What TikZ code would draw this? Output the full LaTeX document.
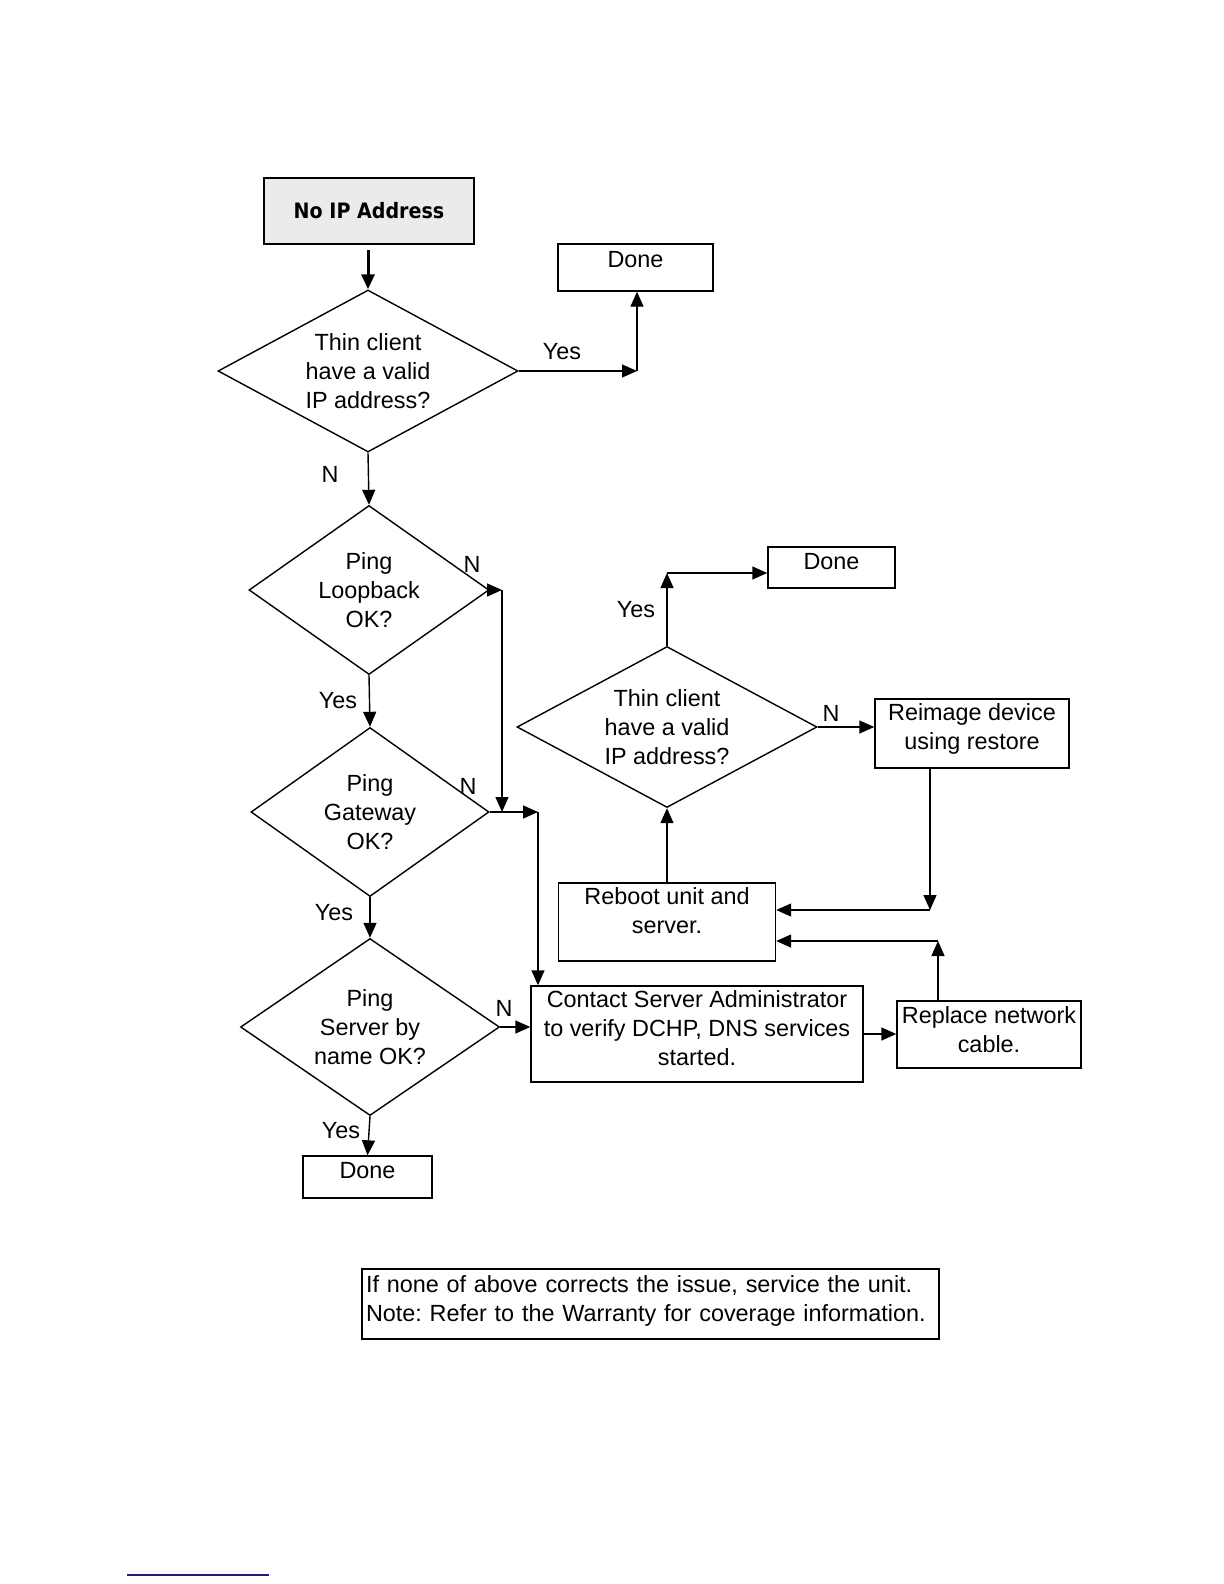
\documentclass[tikz,border=0pt]{standalone}
\usepackage{fontspec}
\setmainfont{Liberation Sans}
\newfontfamily\titlefont[FakeStretch=0.9]{DejaVu Sans}
\usetikzlibrary{shapes.geometric,arrows.meta,positioning}
\definecolor{footblue}{RGB}{30,30,120}
\frenchspacing

\begin{document}
\begin{tikzpicture}[x=0.5pt, y=-0.5pt,
    font=\fontsize{11.7}{14.5}\selectfont,
    every node/.style={inner sep=0pt},
    box/.style={draw, line width=0.7pt, align=center},
    decision/.style={draw, diamond, line width=0.7pt, align=center},
    flow/.style={line width=0.7pt, -{Triangle[length=7.5pt,width=6.5pt]}}]
        \useasboundingbox (0,0) rectangle (1224,1584);
        \node[box, fill=black!8, minimum width=105pt, text height=20.35pt, text depth=12.65pt,
          font=\titlefont\bfseries\fontsize{10.6}{12}\selectfont] (noip) at (369,211) {No IP Address};
        \node[decision, minimum width=150pt, minimum height=81pt, aspect=1.85] (valid) at (368,371)
          {Thin client\\have a valid\\IP address?};
        \node[box, minimum width=77.5pt, text height=11.5pt, text depth=12pt] (doneA) at (635.5,267.5) {Done};
        \node[decision, minimum width=120pt, minimum height=84.5pt, aspect=1.42] (loop) at (369,590)
          {Ping\\Loopback\\OK?};
        \node[decision, minimum width=119pt, minimum height=84.5pt, aspect=1.42] (gate) at (370,812)
          {Ping\\Gateway\\OK?};
        \node[decision, minimum width=129.5pt, minimum height=88.5pt, aspect=1.46] (byname) at (370,1027)
          {Ping\\Server by\\name OK?};
        \node[box, minimum width=64.5pt, text height=11.25pt, text depth=9.75pt] (doneC) at (367.5,1177) {Done};
        \node[box, minimum width=166pt, text height=39.5pt, text depth=8.5pt] (admin) at (697,1034)
          {Contact Server Administrator\\to verify DCHP, DNS services\\started.};
        \node[box, minimum width=92pt, text height=25.5pt, text depth=8pt] (cable) at (989,1034.5)
          {Replace network\\cable.};
        \node[box, minimum width=108.5pt, text height=25pt, text depth=14pt] (reboot) at (667,922)
          {Reboot unit and\\server.};
        \node[decision, minimum width=150pt, minimum height=80.5pt, aspect=1.85] (revalid) at (667,727)
          {Thin client\\have a valid\\IP address?};
        \node[box, minimum width=63.5pt, text height=11.25pt, text depth=9.25pt] (doneB) at (831.5,567.5) {Done};
        \node[box, minimum width=97pt, text height=25pt, text depth=9.5pt] (reimage) at (972,733.5)
          {Reimage device\\using restore};
        \node[box, text width=284.5pt, inner xsep=2pt, align=left, text height=11.5pt, text depth=23.5pt] (note) at (650.5,1304)
          {If none of above corrects the issue, service the unit.\\Note: Refer to the Warranty for coverage information.};

        \coordinate (tA) at (637,371);
        \coordinate (tB) at (502,590);
        \coordinate (tC) at (538,812);
        \coordinate (tD) at (930,910);
        \coordinate (tE) at (938,941);
        \coordinate (tF) at (667,573);

        \draw[flow, line width=1.5pt, shorten <=2.5pt] (valid.north |- noip.south) -- (valid.north);
        \draw[flow] (valid.east) -- (tA);
        \draw[flow] (tA) -- (tA |- doneA.south);
        \draw[flow] (valid.south) -- (loop.north);
        \draw[flow] (loop.east) -- (tB);
        \draw[flow] (tB) -- (tB |- gate.east);
        \draw[flow] (loop.south) -- (gate.north);
        \draw[flow] (gate.east) -- (tC);
        \draw[flow] (tC) -- (tC |- admin.north);
        \draw[flow] (gate.south) -- (byname.north);
        \draw[flow] (byname.east) -- (byname.east -| admin.west);
        \draw[flow] (byname.south) -- (doneC.north);
        \draw[flow] (admin.east) -- (admin.east -| cable.west);
        \draw[flow] (tE |- cable.north) -- (tE);
        \draw[flow] (tE) -- (tE -| reboot.east);
        \draw[flow] (tD |- reimage.south) -- (tD);
        \draw[flow] (tD) -- (tD -| reboot.east);
        \draw[flow] (reboot.north) -- (revalid.south);
        \draw[flow] (revalid.north) -- (tF);
        \draw[flow] (tF) -- (tF -| doneB.west);
        \draw[flow] (revalid.east) -- (revalid.east -| reimage.west);

        \node (yesA) at (562,352) {Yes};
        \node (noA) at (330,474) {N};
        \node (noB) at (472,564) {N};
        \node (yesB) at (338,701) {Yes};
        \node (noC) at (468,786) {N};
        \node (yesC) at (334,913) {Yes};
        \node (noD) at (504,1008) {N};
        \node (yesD) at (341,1131) {Yes};
        \node (yesE) at (636,610) {Yes};
        \node (noE) at (831,713) {N};

        \draw[footblue, line width=0.6pt] (127,1575) -- (269,1575);
      \end{tikzpicture}
\end{document}
